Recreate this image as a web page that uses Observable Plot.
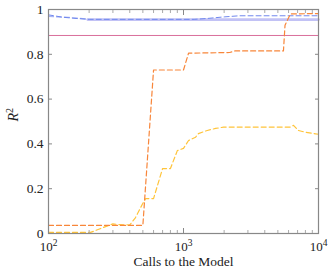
<!DOCTYPE html>
<html>
<head>
<meta charset="utf-8">
<script src="https://cdn.jsdelivr.net/npm/d3@7"></script>
<script src="https://cdn.jsdelivr.net/npm/@observablehq/plot@0.6"></script>
<style>
  html, body { margin: 0; padding: 0; background: #fff; }
</style>
</head>
<body>
<div id="chart"></div>
<script>
// Series data (x = calls to the model, y = R^2)
const orangeX = [100, 500, 600, 1000, 1090, 2200, 2400, 5500, 5650, 6200, 10000];
const orangeY = [0.036, 0.036, 0.73, 0.73, 0.805, 0.808, 0.815, 0.815, 0.93, 0.98, 0.982];

const yellowX = [100, 205, 300, 330, 400, 440, 500, 525, 600, 700, 800, 900, 1000, 1090, 1230, 1290, 1500, 1730, 1980, 6200, 6530, 7100, 8000, 9500, 10000];
const yellowY = [0.005, 0.005, 0.043, 0.04, 0.038, 0.07, 0.135, 0.156, 0.156, 0.29, 0.29, 0.37, 0.38, 0.415, 0.43, 0.446, 0.46, 0.469, 0.475, 0.475, 0.483, 0.46, 0.452, 0.445, 0.443];

const blueX = [100, 115, 130, 160, 200, 1200, 1500, 2000, 2600, 10000];
const blueY = [0.976, 0.97, 0.965, 0.96, 0.956, 0.956, 0.96, 0.967, 0.972, 0.972];

const lightBlueX = [100, 140, 195];
const lightBlueY = [0.969, 0.965, 0.957];

const lavenderX = [195, 10000];
const lavenderY = [0.955, 0.955];

const pinkX = [100, 10000];
const pinkY = [0.884, 0.884];

const majorX = [100, 1000, 10000];
const minorX = [200, 300, 400, 500, 600, 700, 800, 900, 2000, 3000, 4000, 5000, 6000, 7000, 8000, 9000];
const yTicks = [0, 0.2, 0.4, 0.6, 0.8, 1];
const yTickLabels = ["0", "0.2", "0.4", "0.6", "0.8", "1"];
const xLabel = "Calls to the Model";
const yLabel = "R²";

const zip = (xs, ys) => xs.map((x, i) => ({x, y: ys[i]}));
const frameColor = "#888";

const chart = Plot.plot({
  width: 333,
  height: 273,
  marginLeft: 48,
  marginRight: 15,
  marginTop: 9,
  marginBottom: 40,
  style: {fontFamily: "Liberation Serif, DejaVu Serif, serif", fontSize: "14px", background: "white", color: "#222"},
  x: {type: "log", domain: [100, 10000], axis: null},
  y: {domain: [0, 1], axis: null},
  marks: [
    Plot.ruleY([1], {stroke: "#777", strokeDasharray: "1,1.6", strokeWidth: 1}),
    Plot.line(zip(lavenderX, lavenderY), {x: "x", y: "y", stroke: "#c2c2f5", strokeWidth: 2.6}),
    Plot.line(zip(lightBlueX, lightBlueY), {x: "x", y: "y", stroke: "#a8b4f6", strokeWidth: 1.2, strokeDasharray: "5,3"}),
    Plot.line(zip(blueX, blueY), {x: "x", y: "y", stroke: "#7088ee", strokeWidth: 1, strokeDasharray: "5,3"}),
    Plot.line(zip(pinkX, pinkY), {x: "x", y: "y", stroke: "#d9709c", strokeWidth: 1}),
    Plot.line(zip(yellowX, yellowY), {x: "x", y: "y", stroke: "#ffc43a", strokeWidth: 1.2, strokeDasharray: "5,3"}),
    Plot.line(zip(orangeX, orangeY), {x: "x", y: "y", stroke: "#f8863a", strokeWidth: 1.2, strokeDasharray: "5,3"}),
    Plot.frame({stroke: frameColor, strokeWidth: 1.2}),
    // inside ticks
    Plot.axisX(majorX, {anchor: "bottom", label: null, tickSize: 5, dy: -5, tickFormat: () => "", stroke: frameColor}),
    Plot.axisX(minorX, {anchor: "bottom", label: null, tickSize: 3, dy: -3, tickFormat: () => "", stroke: "#aaa"}),
    Plot.axisX(majorX, {anchor: "top", label: null, tickSize: 5, dy: 5, tickFormat: () => "", stroke: frameColor}),
    Plot.axisX(minorX, {anchor: "top", label: null, tickSize: 3, dy: 3, tickFormat: () => "", stroke: "#aaa"}),
    Plot.axisY(yTicks, {anchor: "left", label: null, tickSize: 4, dx: 4, tickFormat: () => "", stroke: frameColor}),
    Plot.axisY(yTicks, {anchor: "right", label: null, tickSize: 4, dx: -4, tickFormat: () => "", stroke: frameColor}),
    // tick labels
    Plot.axisY(yTicks, {anchor: "left", label: null, tickSize: 0, tickPadding: 5, tickFormat: (d, i) => yTickLabels[i], fontSize: 13.5, fill: "#222"}),
    Plot.axisX(majorX, {anchor: "bottom", label: null, tickSize: 0, tickPadding: 8, tickFormat: d => "10^" + Math.round(Math.log10(d)), fontSize: 13, fill: "#222"}),
    Plot.text([xLabel], {frameAnchor: "bottom", dy: 32, fontSize: 13.5, fill: "#222"}),
    Plot.text([yLabel], {frameAnchor: "left", dx: -35, rotate: -90, fontSize: 14, fill: "#222"})
  ]
});

document.getElementById("chart").appendChild(chart);

// superscripts for tick labels and the axis label
d3.select(chart).selectAll("text").each(function() {
  const t = d3.select(this);
  const s = t.text();
  const m = s.match(/^10\^(\d)$/);
  if (m) {
    t.text("10");
    t.append("tspan").attr("dy", "-0.45em").attr("font-size", "9.5px").text(m[1]);
  } else if (s === yLabel) {
    t.text("");
    t.append("tspan").attr("font-style", "italic").text("R");
    t.append("tspan").attr("dy", "-0.45em").attr("font-size", "10px").text("2");
  }
});
</script>
</body>
</html>
